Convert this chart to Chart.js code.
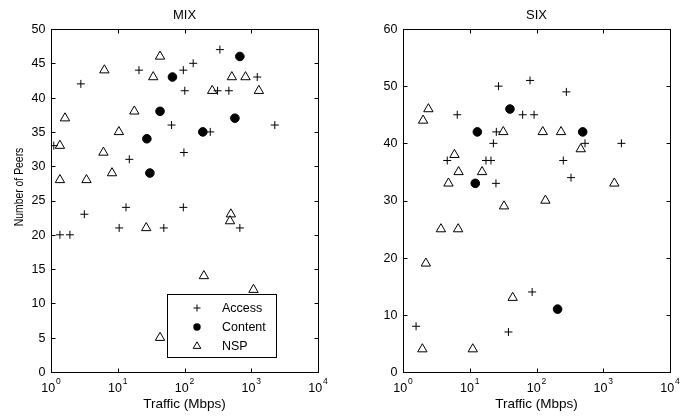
<!DOCTYPE html>
<html>
<head>
<meta charset="utf-8">
<script src="https://cdn.jsdelivr.net/npm/chart.js@4.4.1/dist/chart.umd.min.js"></script>
<style>
  html, body { margin: 0; padding: 0; background: #fff; }
  #wrap { position: relative; width: 681px; height: 416px; }
  canvas { position: absolute; top: 0; }
</style>
</head>
<body>
<div id="wrap">
  <canvas id="mix-chart" width="340" height="416" style="left:0"></canvas>
  <canvas id="six-chart" width="341" height="416" style="left:340px"></canvas>
</div>
<script>
// MIX data (traffic in Mbps, number of peers)
const mixAccessX = [339, 20.8, 96, 135, 2.8, 1230, 101, 313, 462, 64, 2254, 243, 1.1, 98, 14.9, 13.3, 96, 3.16, 1.36, 1.92, 10.5, 49, 675];
const mixAccessY = [47, 44, 44, 45, 42, 43, 41, 41, 41, 36, 36, 35, 33, 32, 31, 24, 24, 23, 20, 20, 21, 21, 21];
const mixContentX = [675, 66, 43, 569, 188, 27.3, 30.3];
const mixContentY = [46, 43, 38, 37, 35, 34, 29];
const mixNspX = [43, 6.3, 34, 512, 820, 260, 1300, 17.7, 1.62, 10.4, 1.36, 6.1, 8.2, 1.36, 3.4, 495, 480, 26.7, 195, 1080, 43];
const mixNspY = [46, 44, 43, 43, 43, 41, 41, 38, 37, 35, 33, 32, 29, 28, 28, 23, 22, 21, 14, 12, 5];

// SIX data
const sixAccessX = [80, 27, 280, 6.5, 62, 92, 25, 22.6, 533, 1870, 4.6, 17.5, 20.8, 252, 329, 24.7, 86, 1.57, 38];
const sixAccessY = [51, 50, 49, 45, 45, 45, 42, 40, 40, 40, 37, 37, 37, 37, 34, 33, 14, 8, 7];
const sixContentX = [40, 13, 492, 12.1, 207];
const sixContentY = [46, 42, 42, 33, 11];
const sixNspX = [2.4, 2.0, 31.8, 124, 233, 460, 5.9, 6.8, 15.3, 4.8, 1466, 32.6, 136, 3.7, 6.7, 2.2, 44, 1.95, 11.1];
const sixNspY = [46, 44, 42, 42, 42, 39, 38, 35, 35, 33, 33, 29, 30, 25, 25, 19, 13, 4, 4];

// axis ticks
const xTicks = [1, 10, 100, 1000, 10000];
const mixYTicks = [0, 5, 10, 15, 20, 25, 30, 35, 40, 45, 50];
const sixYTicks = [0, 10, 20, 30, 40, 50, 60];
const seriesNames = ['Access', 'Content', 'NSP'];

const FONT = "'Liberation Sans', Arial, sans-serif";

const toPoints = (xs, ys) => xs.map((x, i) => ({ x: x, y: ys[i] }));

function makeDatasets(accX, accY, conX, conY, nspX, nspY) {
    return [
        { label: seriesNames[0], data: toPoints(accX, accY), pointStyle: 'cross', pointRadius: 4,
          borderColor: '#000', backgroundColor: '#000', pointBorderWidth: 1 },
        { label: seriesNames[1], data: toPoints(conX, conY), pointStyle: 'circle', pointRadius: 4.3,
          borderColor: '#000', backgroundColor: '#000', pointBorderWidth: 1 },
        { label: seriesNames[2], data: toPoints(nspX, nspY), pointStyle: 'triangle', pointRadius: 5.4,
          borderColor: '#000', backgroundColor: '#fff', pointBorderWidth: 1 }
    ];
}

// draws the matlab-ish box, inward ticks, tick labels, titles and legend
function axesPlugin(cfg) {
    return {
        id: 'matlabAxes',
        afterDatasetsDraw(chart) {
            const ctx = chart.ctx;
            const a = chart.chartArea;
            const xs = chart.scales.x, ys = chart.scales.y;
            ctx.save();
            ctx.strokeStyle = '#000';
            ctx.lineWidth = 1;
            const L = Math.round(a.left) + 0.5, R = Math.round(a.right) + 0.5;
            const T = Math.round(a.top) + 0.5, B = Math.round(a.bottom) + 0.5;
            ctx.strokeRect(L, T, R - L, B - T);

            const tl = 4;
            ctx.beginPath();
            xTicks.forEach(v => {
                const px = Math.round(xs.getPixelForValue(v)) + 0.5;
                ctx.moveTo(px, B); ctx.lineTo(px, B - tl);
                ctx.moveTo(px, T); ctx.lineTo(px, T + tl);
            });
            cfg.yTicks.forEach(v => {
                const py = Math.round(ys.getPixelForValue(v)) + 0.5;
                ctx.moveTo(L, py); ctx.lineTo(L + tl, py);
                ctx.moveTo(R, py); ctx.lineTo(R - tl, py);
            });
            ctx.stroke();

            ctx.fillStyle = '#000';
            // y tick labels
            ctx.font = '12.5px ' + FONT;
            ctx.textAlign = 'right';
            ctx.textBaseline = 'middle';
            cfg.yTicks.forEach(v => {
                ctx.fillText(String(v), a.left - 5.5, ys.getPixelForValue(v) + 0.5);
            });
            // x tick labels, 10^n
            ctx.textBaseline = 'alphabetic';
            ctx.textAlign = 'left';
            xTicks.forEach(v => {
                const px = xs.getPixelForValue(v);
                const exp = String(Math.round(Math.log10(v)));
                ctx.font = '12.5px ' + FONT;
                const w1 = ctx.measureText('10').width;
                ctx.font = '8.5px ' + FONT;
                const w2 = ctx.measureText(exp).width;
                const x0 = px - (w1 + w2 + 1) / 2;
                ctx.font = '12.5px ' + FONT;
                ctx.fillText('10', x0, a.bottom + 20);
                ctx.font = '8.5px ' + FONT;
                ctx.fillText(exp, x0 + w1 + 1, a.bottom + 12);
            });
            // title and x label
            ctx.textAlign = 'center';
            ctx.font = '13px ' + FONT;
            const cx = (a.left + a.right) / 2;
            ctx.fillText(cfg.title, cx, 18.5);
            ctx.font = '13.5px ' + FONT;
            ctx.fillText('Traffic (Mbps)', cx, 407.5);
            // y label (narrowed along its length like the original)
            if (cfg.yLabel) {
                ctx.save();
                ctx.translate(23, 187);
                ctx.rotate(-Math.PI / 2);
                ctx.scale(0.77, 1);
                ctx.font = '13.5px ' + FONT;
                ctx.textBaseline = 'alphabetic';
                ctx.fillText(cfg.yLabel, 0, 0);
                ctx.restore();
            }
            // legend box
            if (cfg.legend) {
                const lg = cfg.legend;
                ctx.fillStyle = '#fff';
                ctx.fillRect(lg.x, lg.y, lg.w, lg.h);
                ctx.strokeRect(lg.x + 0.5, lg.y + 0.5, lg.w, lg.h);
                ctx.fillStyle = '#000';
                ctx.font = '12.5px ' + FONT;
                ctx.textAlign = 'left';
                ctx.textBaseline = 'middle';
                chart.data.datasets.forEach((ds, i) => {
                    const my = lg.y + 14 + i * 19;
                    const mx = lg.x + 30;
                    ctx.beginPath();
                    if (ds.pointStyle === 'cross') {
                        ctx.moveTo(mx - 3.5, my); ctx.lineTo(mx + 3.5, my);
                        ctx.moveTo(mx, my - 3.5); ctx.lineTo(mx, my + 3.5);
                        ctx.stroke();
                    } else if (ds.pointStyle === 'circle') {
                        ctx.arc(mx, my, 3.7, 0, Math.PI * 2);
                        ctx.fill();
                    } else {
                        ctx.moveTo(mx, my - 4.2);
                        ctx.lineTo(mx + 3.8, my + 2.4);
                        ctx.lineTo(mx - 3.8, my + 2.4);
                        ctx.closePath();
                        ctx.stroke();
                    }
                    ctx.fillText(ds.label, lg.x + 55, my + 0.5);
                });
            }
            ctx.restore();
        }
    };
}

function buildChart(id, datasets, yMax, padding, cfg) {
    const ctx = document.getElementById(id)?.getContext('2d');
    if (!ctx) return;
    new Chart(ctx, {
        type: 'scatter',
        data: { datasets: datasets },
        options: {
            responsive: false,
            animation: false,
            layout: { padding: padding },
            scales: {
                x: { type: 'logarithmic', min: 1, max: 10000, display: false },
                y: { type: 'linear', min: 0, max: yMax, display: false }
            },
            plugins: { legend: { display: false }, tooltip: { enabled: false } }
        },
        plugins: [axesPlugin(cfg)]
    });
}

buildChart('mix-chart',
    makeDatasets(mixAccessX, mixAccessY, mixContentX, mixContentY, mixNspX, mixNspY),
    50, { left: 51, right: 22, top: 29, bottom: 44 },
    { title: 'MIX', yTicks: mixYTicks, yLabel: 'Number of Peers',
      legend: { x: 167, y: 294, w: 109, h: 63 } });

buildChart('six-chart',
    makeDatasets(sixAccessX, sixAccessY, sixContentX, sixContentY, sixNspX, sixNspY),
    60, { left: 63, right: 11, top: 29, bottom: 44 },
    { title: 'SIX', yTicks: sixYTicks });
</script>
</body>
</html>
